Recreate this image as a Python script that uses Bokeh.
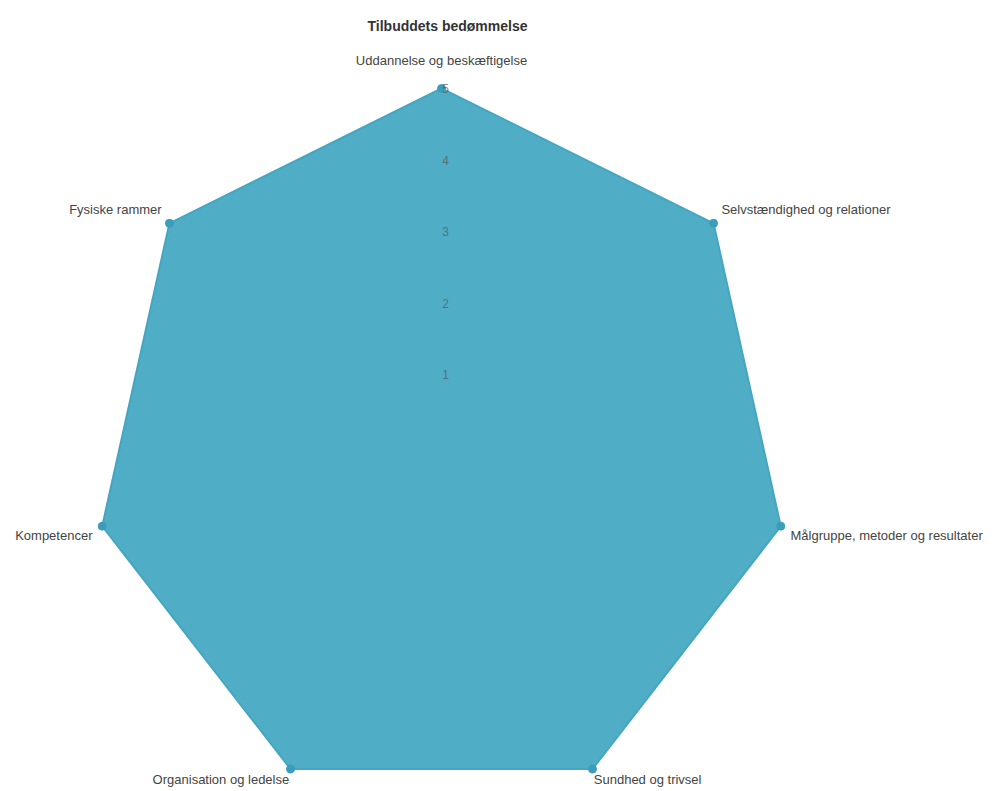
import math
from bokeh.plotting import figure
from bokeh.models import Range1d
from bokeh.core.properties import value
from bokeh.embed import file_html
from bokeh.resources import INLINE

title = "Tilbuddets bedømmelse"
categories = [
    "Uddannelse og beskæftigelse",
    "Selvstændighed og relationer",
    "Målgruppe, metoder og resultater",
    "Sundhed og trivsel",
    "Organisation og ledelse",
    "Kompetencer",
    "Fysiske rammer",
]
scores = [5, 5, 5, 5, 5, 5, 5]
tick_values = [1, 2, 3, 4, 5]
tick_labels = ["1", "2", "3", "4", "5"]
max_value = 5

W, H = 1000, 791
off = 0
# pixel scale (px per data unit) and centre of the radar on the page
px_x, px_y = 69.6, 71.6
cx_page, cy_page = 441, 446
x0 = -(cx_page - off) / px_x
x1 = x0 + W / px_x
y1 = (cy_page - off) / px_y
y0 = y1 - H / px_y

p = figure(width=W, height=H, output_backend="svg", toolbar_location=None,
           x_range=Range1d(x0, x1), y_range=Range1d(y0, y1),
           min_border=0)
p.axis.visible = False
p.grid.visible = False
p.outline_line_color = None
p.background_fill_color = "white"

n = len(categories)
angles = [math.pi / 2 - 2 * math.pi * k / n for k in range(n)]
xs = [s * math.cos(a) for s, a in zip(scores, angles)]
ys = [s * math.sin(a) for s, a in zip(scores, angles)]

fill = "#4fadc6"
p.patch(xs, ys, fill_color=fill, line_color="#45a6c1", line_width=2)
p.scatter(xs, ys, size=8, fill_color="#3a9dba", line_color="#3a9dba")

# tick labels along the first axis
p.text([0.06] * len(tick_values), tick_values, text=tick_labels,
       text_align="center", text_baseline="middle",
       text_font=value("Liberation Sans"), text_font_size="12px",
       text_color="#555555", text_alpha=0.7)

# point labels
lx, ly, al, bl = [], [], [], []
for a in angles:
    c, s = math.cos(a), math.sin(a)
    if abs(c) < 0.01:
        pad = 21
    elif s < -0.5:
        pad = 3
    else:
        pad = 10
    lx.append(max_value * c + pad * c / px_x)
    ly.append(max_value * s + pad * s / px_y)
    al.append("center" if abs(c) < 0.01 else ("left" if c > 0 else "right"))
    bl.append("bottom" if s > 0.05 else ("top" if s < -0.05 else "middle"))

for x, y, t, a, b in zip(lx, ly, categories, al, bl):
    p.text([x], [y], text=[t], text_align=a, text_baseline=b,
           text_font=value("Liberation Sans"), text_font_size="13px",
           text_color="#444444")

# title
p.text([(447 - cx_page) / px_x], [(cy_page - 25) / px_y], text=[title],
       text_align="center", text_baseline="middle",
       text_font=value("Liberation Sans"), text_font_size="14px",
       text_font_style="bold", text_color="#333333")

open("out.html", "w").write(file_html(p, INLINE))
